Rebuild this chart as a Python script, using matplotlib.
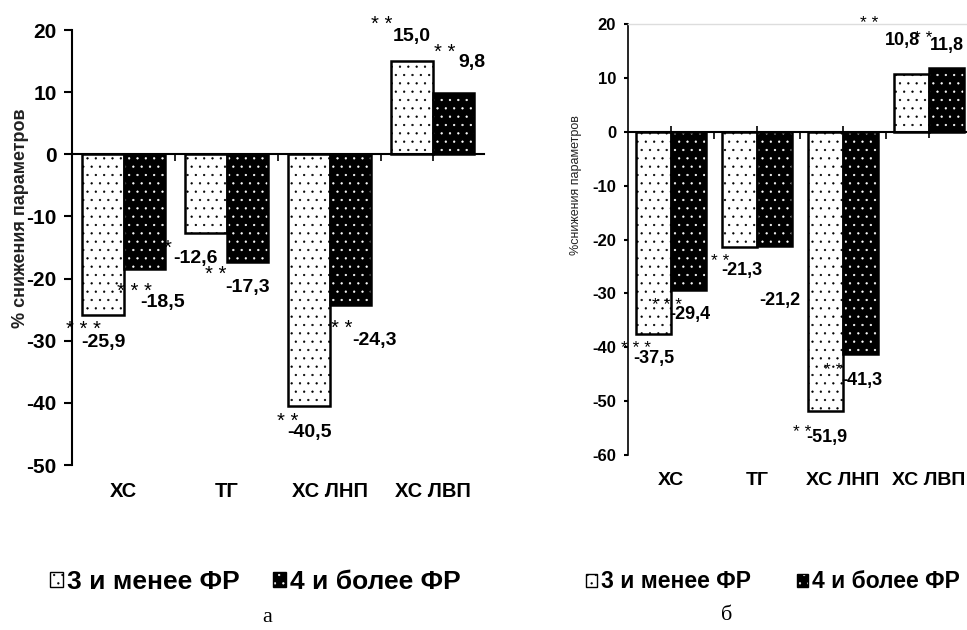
import matplotlib
matplotlib.use('Agg')
import matplotlib.pyplot as plt
import matplotlib.transforms as mtransforms
from matplotlib.patches import Patch
from matplotlib.legend_handler import HandlerTuple
import numpy as np

# ---------------- data ----------------
categories = ['ХС', 'ТГ', 'ХС ЛНП', 'ХС ЛВП']
series_names = ['3 и менее ФР', '4 и более ФР']

a_low = [-25.9, -12.6, -40.5, 15.0]
a_high = [-18.5, -17.3, -24.3, 9.8]
a_low_sig = ['***', '*', '**', '**']
a_high_sig = ['***', '**', '**', '**']

b_low = [-37.5, -21.3, -51.9, 10.8]
b_high = [-29.4, -21.2, -41.3, 11.8]
b_low_sig = ['***', '**', '**', '**']
b_high_sig = ['***', '', '**', '**']

a_yticks = [-50, -40, -30, -20, -10, 0, 10, 20]
b_yticks = [-60, -50, -40, -30, -20, -10, 0, 10, 20]
panel_letters = ['а', 'б']
ylabels = ['% снижения параметров', '%снижения параметров']

# ---------------- style / positions ----------------
plt.rcParams['hatch.linewidth'] = 0.4
SANS = 'Liberation Sans'
plt.rcParams['font.family'] = [SANS, 'DejaVu Sans']

W, H = 967, 630
fig = plt.figure(figsize=(W / 100, H / 100), dpi=100)


def fig_rect(x0, y_top, x1, y_bot):
    return [x0 / W, 1 - y_bot / H, (x1 - x0) / W, (y_bot - y_top) / H]


# label offsets (dx, dy) relative to bar centre/value, stars offsets
a_lab_low = [(0.01, -4.4), (-0.10, -4.2), (0.01, -4.3), (0.0, 3.9)]
a_star_low = [(-0.19, -1.4), (-0.37, -1.6), (-0.20, -1.6), (-0.29, 6.9)]
a_lab_high = [(0.18, -5.4), (0.0, -4.1), (0.23, -5.7), (0.18, 5.0)]
a_star_high = [(-0.10, -2.6), (-0.31, -1.1), (-0.08, -2.8), (-0.08, 7.5)]

b_lab_low = [(0.0, -4.6), (0.03, -4.5), (0.01, -4.8), (-0.11, 6.2)]
b_star_low = [(-0.20, -1.8), (-0.23, -1.9), (-0.27, -2.9), (-0.49, 10.2)]
b_lab_high = [(0.02, -4.6), (0.06, -10.1), (0.02, -4.8), (0.01, 4.2)]
b_star_high = [(-0.25, -1.9), (0, 0), (-0.32, -2.0), (-0.27, 6.5)]


def fmt(v):
    return f'{v:.1f}'.replace('.', ',')


def draw(ax, low, high, low_sig, high_sig, yticks, lab_low, star_low, lab_high,
         star_high, tick_fs, val_fs, star_fs, cat_fs, cat_y, minor_dir,
         ytick_len, ytick_pad):
    x = np.arange(len(categories))
    w = 0.405
    ax.bar(x - w / 2, low, w, facecolor='white', edgecolor='black', hatch='..',
           linewidth=1.8, zorder=2)
    ax.bar(x + w / 2, high, w, facecolor='black', edgecolor='white', hatch='..',
           linewidth=0, zorder=2)
    ax.bar(x + w / 2, high, w, fill=False, edgecolor='black', linewidth=1.8, zorder=2.1)
    ax.set_xlim(-0.5, len(categories) - 0.5)
    ax.set_ylim(min(yticks), max(yticks))
    ax.set_axisbelow(True)
    for s in ['top', 'right']:
        ax.spines[s].set_visible(False)
    ax.spines['bottom'].set_position(('data', 0))
    ax.spines['bottom'].set_linewidth(1.5)
    ax.spines['left'].set_linewidth(1.5)
    ax.set_xticks(x[:-1] + 0.5)
    ax.set_xticks(x, minor=True)
    ax.tick_params(axis='x', which='major', direction='out', length=5, width=1.2,
                   labelbottom=False)
    ax.tick_params(axis='x', which='minor', direction=minor_dir,
                   length=5 if minor_dir == 'out' else 9, width=1.2, labelbottom=False)
    ax.set_yticks(yticks)
    ax.set_yticklabels([str(t) for t in yticks], fontweight='bold', fontsize=tick_fs)
    ax.tick_params(axis='y', direction='out', length=ytick_len, width=1.5, pad=ytick_pad)
    tr = mtransforms.blended_transform_factory(ax.transData, ax.transAxes)
    for i, c in enumerate(categories):
        ax.text(x[i], cat_y, c, transform=tr, ha='center', va='center',
                fontsize=cat_fs, fontweight='bold')
    for vals, sigs, labs, stars, sgn in [(low, low_sig, lab_low, star_low, -1),
                                          (high, high_sig, lab_high, star_high, 1)]:
        for i, v in enumerate(vals):
            xb = x[i] + sgn * w / 2
            ax.text(xb + labs[i][0], v + labs[i][1], fmt(v), ha='center', va='center',
                    fontsize=val_fs, fontweight='bold', zorder=5, clip_on=False)
            if sigs[i]:
                ax.annotate(' '.join(sigs[i]), (xb + stars[i][0], v + stars[i][1]),
                            xytext=(0, -0.3 * star_fs), textcoords='offset points',
                            ha='center', va='center', fontsize=star_fs,
                            zorder=5, annotation_clip=False)


# panel a
axA = fig.add_axes(fig_rect(72, 30, 484, 465))
draw(axA, a_low, a_high, a_low_sig, a_high_sig, a_yticks, a_lab_low, a_star_low,
     a_lab_high, a_star_high, 15, 14, 14.5, 14.5, -0.062, 'out', 6, 5)
axA.set_ylabel(ylabels[0], fontsize=13, fontweight='bold', color='#222222')
axA.yaxis.set_label_coords(-0.105, 0.568)

# panel b
axB = fig.add_axes(fig_rect(628, 24, 972, 455))
draw(axB, b_low, b_high, b_low_sig, b_high_sig, b_yticks, b_lab_low, b_star_low,
     b_lab_high, b_star_high, 12, 13, 12.5, 14, -0.060, 'inout', 3, 5.5)
axB.spines['top'].set_visible(True)
axB.spines['top'].set_color('#dddddd')
axB.spines['top'].set_linewidth(1.0)
axB.spines['left'].set_linewidth(1.2)
axB.set_ylabel(ylabels[1], fontsize=9, color='#222222')
axB.yaxis.set_label_coords(-0.134, 0.626)


def handles():
    h1 = Patch(facecolor='white', edgecolor='black', hatch='..', linewidth=1.0)
    h2 = (Patch(facecolor='black', edgecolor='white', hatch='..', linewidth=0),
          Patch(fill=False, edgecolor='black', linewidth=1.0))
    return [h1, h2]


for ax, x0, fs, cs in [(axA, 50, 19, 1.25), (axB, 586, 16.5, 2.0)]:
    ax.legend(handles(), series_names, loc='center left',
              bbox_to_anchor=(x0 / W, 1 - 582 / H), bbox_transform=fig.transFigure,
              ncol=2, frameon=False, handlelength=0.5, handleheight=0.5,
              handletextpad=0.15, columnspacing=cs, borderpad=0, borderaxespad=0,
              prop={'weight': 'bold', 'size': fs},
              handler_map={tuple: HandlerTuple(ndivide=1, pad=0)})

fig.text(267 / W, 1 - 618 / H, panel_letters[0], ha='center', va='center',
         family='Liberation Serif', fontsize=16)
fig.text(727 / W, 1 - 616 / H, panel_letters[1], ha='center', va='center',
         family='Liberation Serif', fontsize=16)

fig.savefig('out.png', dpi=100)
